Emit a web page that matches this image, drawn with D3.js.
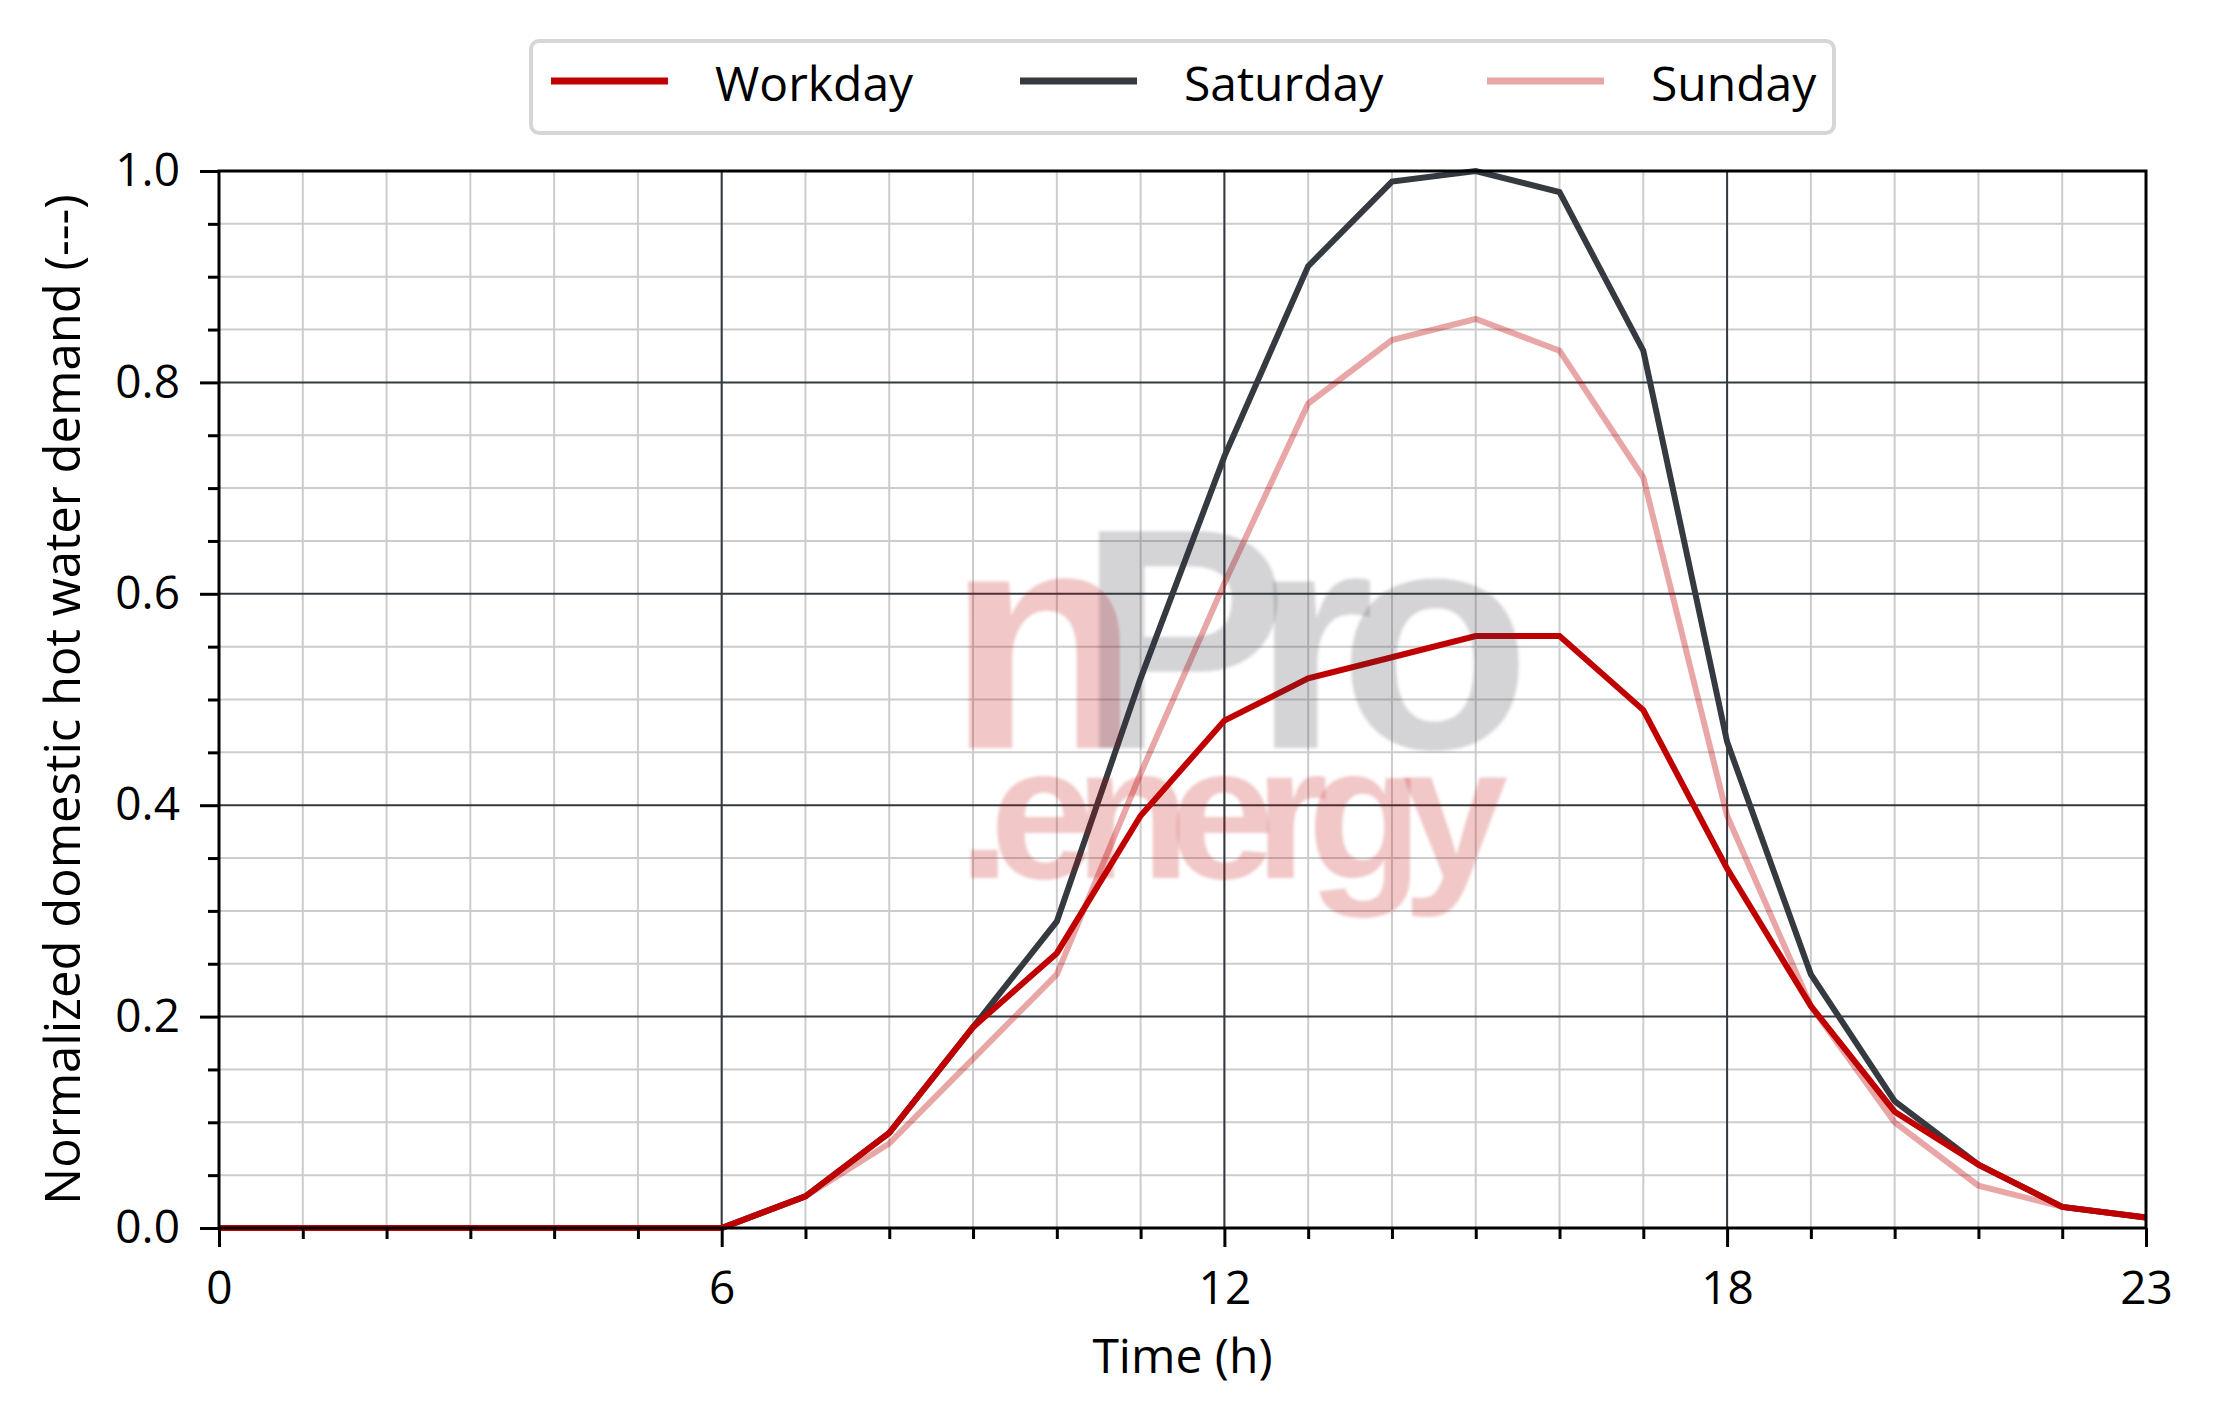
<!DOCTYPE html>
<html><head><meta charset="utf-8">
<script src="https://cdn.jsdelivr.net/npm/d3@7"></script>
<style>
body{margin:0;background:#fff}
svg{display:block}
text{font-family:"Open Sans","Noto Sans",sans-serif;fill:#000}
</style>
</head><body>
<svg id="c" width="2215" height="1424"></svg>
<script>
// ---- data ----
const hours = [0,1,2,3,4,5,6,7,8,9,10,11,12,13,14,15,16,17,18,19,20,21,22,23];
const workday  = [0,0,0,0,0,0,0,0.03,0.09,0.19,0.26,0.39,0.48,0.52,0.54,0.56,0.56,0.49,0.34,0.21,0.11,0.06,0.02,0.01];
const saturday = [0,0,0,0,0,0,0,0.03,0.09,0.19,0.29,0.52,0.73,0.91,0.99,1.00,0.98,0.83,0.46,0.24,0.12,0.06,0.02,0.01];
const sunday   = [0,0,0,0,0,0,0,0.03,0.08,0.16,0.24,0.43,0.61,0.78,0.84,0.86,0.83,0.71,0.39,0.21,0.10,0.04,0.02,0.01];
const seriesNames = ["Workday","Saturday","Sunday"];
const xMajorTicks = [0,6,12,18,23];
const xTickLabels = ["0","6","12","18","23"];
const yMajorTicks = [0,0.2,0.4,0.6,0.8,1.0];
const yTickLabels = ["0.0","0.2","0.4","0.6","0.8","1.0"];
const yMinorTicks = [0.05,0.1,0.15,0.25,0.3,0.35,0.45,0.5,0.55,0.65,0.7,0.75,0.85,0.9,0.95];
const xLabel = "Time (h)";
const yLabel = "Normalized domestic hot water demand (---)";

// ---- styles ----
const colors = {Workday:"#c00000", Saturday:"#343a40", Sunday:"rgba(192,0,0,0.35)"};
const legendColors = {Workday:"#c00000", Saturday:"#343a40", Sunday:"#e9a6a6"};
const L=219, R=2146, T=171, B=1228;

const svg = d3.select("#c");
const x = d3.scaleLinear().domain([0,23]).range([L,R]);
const y = d3.scaleLinear().domain([0,1]).range([B,T]);

// minor grid
const g = svg.append("g");
g.selectAll("line.vmin").data(hours).join("line")
  .attr("x1",d=>x(d)).attr("x2",d=>x(d)).attr("y1",T).attr("y2",B)
  .attr("stroke","#cccccc").attr("stroke-width",2);
g.selectAll("line.hmin").data(yMinorTicks).join("line").attr("class","hmin")
  .attr("x1",L).attr("x2",R).attr("y1",d=>y(d)).attr("y2",d=>y(d))
  .attr("stroke","#cccccc").attr("stroke-width",2);
// major grid
g.selectAll("line.vmaj").data(xMajorTicks).join("line").attr("class","vmaj")
  .attr("x1",d=>x(d)).attr("x2",d=>x(d)).attr("y1",T).attr("y2",B)
  .attr("stroke","#343a40").attr("stroke-width",2);
g.selectAll("line.hmaj").data(yMajorTicks).join("line").attr("class","hmaj")
  .attr("x1",L).attr("x2",R).attr("y1",d=>y(d)).attr("y2",d=>y(d))
  .attr("stroke","#343a40").attr("stroke-width",2);

// series lines
const series = {Workday:workday, Saturday:saturday, Sunday:sunday};
const line = d3.line().x((d,i)=>x(hours[i])).y(d=>y(d));
["Sunday","Saturday","Workday"].forEach(name=>{
  svg.append("path").datum(series[name]).attr("d",line)
    .attr("fill","none").attr("stroke",colors[name]).attr("stroke-width",6)
    .attr("stroke-linejoin","miter");
});

// watermark (single text element with tspans)
const defs = svg.append("defs");
defs.append("filter").attr("id","soft").append("feGaussianBlur").attr("stdDeviation",1.5);
const wm = svg.append("text").attr("filter","url(#soft)")
  .style("font-family","'Liberation Sans',Arial,sans-serif").style("font-weight","bold");
wm.append("tspan").attr("x",947).attr("y",748).attr("font-size",315)
  .style("fill","rgba(192,0,0,0.22)").text("n");
wm.append("tspan").attr("x",1078).attr("y",748).attr("font-size",315).attr("letter-spacing",-36)
  .style("fill","rgba(52,58,64,0.21)").text("Pro");
wm.append("tspan").attr("x",958).attr("y",878).attr("font-size",190).attr("letter-spacing",-21)
  .style("fill","rgba(192,0,0,0.22)").text(".energy");

// spines
svg.append("rect").attr("x",L).attr("y",T).attr("width",R-L).attr("height",B-T)
  .attr("fill","none").attr("stroke","#000").attr("stroke-width",3);

// axes ticks
const yAxis = d3.axisLeft(y).tickValues(yMajorTicks).tickSize(19).tickPadding(20)
  .tickFormat((d,i)=>yTickLabels[i]);
const ya = svg.append("g").attr("transform",`translate(${L},0)`).call(yAxis);
const yAxisMin = d3.axisLeft(y).tickValues(yMinorTicks).tickSize(11).tickFormat("");
const yb = svg.append("g").attr("transform",`translate(${L},0)`).call(yAxisMin);
const xAxis = d3.axisBottom(x).tickValues(xMajorTicks).tickSize(19).tickPadding(24)
  .tickFormat((d,i)=>xTickLabels[i]);
const xa = svg.append("g").attr("transform",`translate(0,${B})`).call(xAxis);
const xAxisMin = d3.axisBottom(x).tickValues(hours.filter(h=>!xMajorTicks.includes(h))).tickSize(11).tickFormat("");
const xb = svg.append("g").attr("transform",`translate(0,${B})`).call(xAxisMin);
[ya,yb,xa,xb].forEach(a=>{
  a.select(".domain").remove();
  a.selectAll(".tick line").attr("stroke","#000").attr("stroke-width",3);
  a.selectAll(".tick text").attr("font-size",46).style("font-family","'Open Sans',sans-serif").attr("fill","#000");
});

// axis labels
svg.append("text").attr("x",(L+R)/2).attr("y",1373).attr("text-anchor","middle")
  .attr("font-size",48).text(xLabel);
svg.append("text").attr("transform",`translate(80,${(T+B)/2}) rotate(-90)`)
  .attr("text-anchor","middle").attr("font-size",49).text(yLabel);

// legend
const lg = svg.append("g");
lg.append("rect").attr("x",531).attr("y",41).attr("width",1303).attr("height",92)
  .attr("rx",8).attr("fill","#fff").attr("stroke","#d6d6d6").attr("stroke-width",4);
const legX = [551,1020,1487];
seriesNames.forEach((n,i)=>{
  lg.append("line").attr("x1",legX[i]).attr("x2",legX[i]+117).attr("y1",81).attr("y2",81)
    .attr("stroke",legendColors[n]).attr("stroke-width",7);
  lg.append("text").attr("x",legX[i]+164).attr("y",101).attr("font-size",48).text(n);
});
</script>
</body></html>
